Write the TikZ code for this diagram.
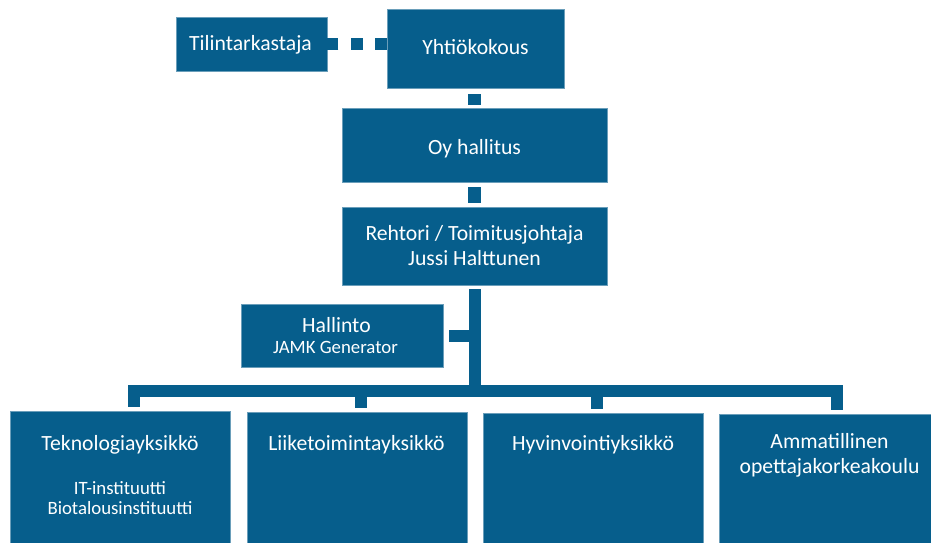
\documentclass[tikz,border=0pt]{standalone}
\usepackage{fontspec}
\setmainfont{Carlito}
\definecolor{boxblue}{RGB}{6,94,140}
\tikzset{
  box/.style={draw=boxblue!60!white, line width=0.5pt, fill=boxblue, text=white, inner sep=0pt, align=center},
  txt/.style={text=white, inner sep=0pt, align=center, font=\fontsize{21.7}{24.5}\selectfont},
  small/.style={text=white, inner sep=0pt, align=center, font=\fontsize{18.8}{20}\selectfont},
  conn/.style={draw=boxblue, line width=12pt, line cap=butt, line join=miter},
}
\begin{document}
\begin{tikzpicture}[x=1pt,y=-1pt]
\useasboundingbox (0,0) rectangle (931,543);
\clip (0,0) rectangle (931,543);
% boxes
\node[box, minimum width=151pt, minimum height=54pt] (til) at (251.5,44) {};
\node[box, minimum width=177pt, minimum height=79pt] (yht) at (475.5,48.5) {};
\node[box, minimum width=265pt, minimum height=74pt] (oy) at (474.5,145) {};
\node[box, minimum width=265pt, minimum height=78pt] (reh) at (474.5,246) {};
\node[box, minimum width=202pt, minimum height=63pt] (hal) at (342,335.5) {};
\node[box, minimum width=220pt, minimum height=150pt] (tek) at (120,486) {};
\node[box, minimum width=220pt, minimum height=150pt] (lii) at (357,487) {};
\node[box, minimum width=220pt, minimum height=150pt] (hyv) at (593,488) {};
\node[box, minimum width=220pt, minimum height=150pt] (amm) at (829,489) {};
% texts
\node[txt] (tilT) at (250.5,44.5) {Tilintarkastaja};
\node[txt] (yhtT) at (475.5,47.5) {Yhtiökokous};
\node[txt] (oyT) at (474.5,148.5) {Oy hallitus};
\node[txt] (rehT) at (474.5,245.5) {Rehtori / Toimitusjohtaja\\Jussi Halttunen};
\node[txt] (halT) at (336.5,325.5) {Hallinto};
\node[small] (halS) at (335.5,347.5) {JAMK Generator};
\node[txt] (tekT) at (120,444.5) {Teknologiayksikkö};
\node[small] (tekS) at (120,498.5) {IT-instituutti\\Biotalousinstituutti};
\node[txt] (liiT) at (356.5,444.5) {Liiketoimintayksikkö};
\node[txt] (hyvT) at (593,444.5) {Hyvinvointiyksikkö};
\node[txt] (ammT) at (829.5,455.5) {Ammatillinen\\opettajakorkeakoulu};
% connectors
\coordinate (hub) at (474.5,391);
\draw[conn, dash pattern=on 11.5pt off 12.75pt] (til.east -| yht.west) -- (til.east);
\draw[conn, line width=12.5pt, shorten <=6pt, shorten >=3pt] (oy.north |- yht.south) -- (oy.north);
\draw[conn, line width=12.5pt, shorten <=5pt, shorten >=4pt] (oy.south) -- (reh.north);
\draw[conn, shorten <=4pt] (reh.south) -- (hub);
\draw[conn, shorten <=6pt] (hal.east) -- (hal.east -| hub);
\draw[conn, shorten <=4pt, shorten >=4pt] ([xshift=14pt]tek.north) |- (hub) -| ([xshift=8pt]amm.north);
\draw[conn, shorten >=4pt] ([xshift=3.5pt]lii.north |- hub) -- ([xshift=3.5pt]lii.north);
\draw[conn, shorten >=4pt] ([xshift=4pt]hyv.north |- hub) -- ([xshift=4pt]hyv.north);
\end{tikzpicture}
\end{document}
